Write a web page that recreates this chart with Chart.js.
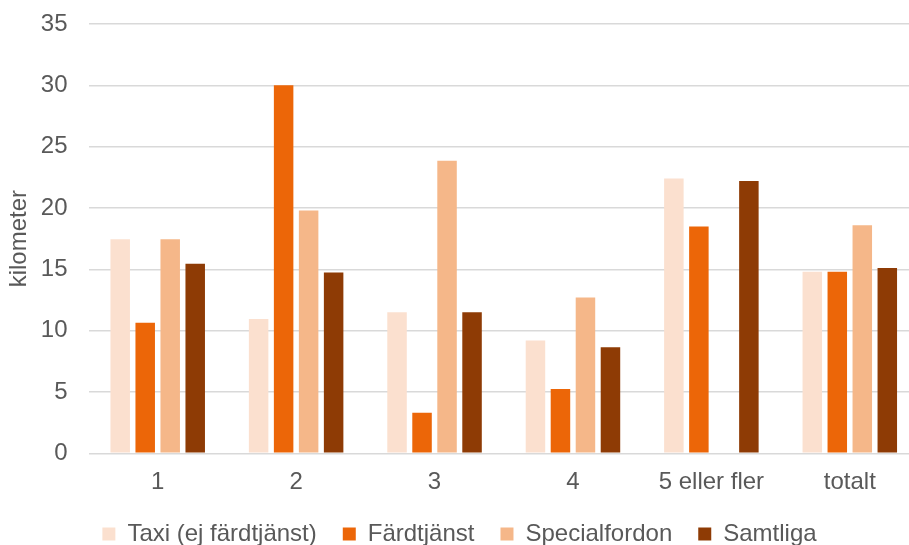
<!DOCTYPE html>
<html>
<head>
<meta charset="utf-8">
<script src="https://cdn.jsdelivr.net/npm/chart.js@4/dist/chart.umd.min.js"></script>
<style>
  html, body { margin: 0; padding: 0; background: #ffffff; overflow: hidden; }
  #wrap { position: relative; width: 919px; height: 545px; }
</style>
</head>
<body>
<div id="wrap"><canvas id="chart"></canvas></div>
<script>
// Average trip length (km) by number of passengers, per vehicle type
const categories = ['1', '2', '3', '4', '5 eller fler', 'totalt'];
const seriesNames = ['Taxi (ej färdtjänst)', 'Färdtjänst', 'Specialfordon', 'Samtliga'];
const taxi          = [17.45, 10.95, 11.5, 9.2, 22.4, 14.8];
const fardtjanst    = [10.65, 30.0, 3.3, 5.25, 18.5, 14.8];
const specialfordon = [17.45, 19.8, 23.85, 12.7, null, 18.6];
const samtliga      = [15.45, 14.75, 11.5, 8.65, 22.2, 15.1];
const yTicks = [0, 5, 10, 15, 20, 25, 30, 35];

const colors = ['#FBE0CF', '#EC6608', '#F5B789', '#8E3B05'];
const values = [taxi, fardtjanst, specialfordon, samtliga];

const FONT = '"Liberation Sans", Arial, sans-serif';
const GREY = '#595959';

new Chart(document.getElementById('chart'), {
  type: 'bar',
  data: {
    labels: categories,
    datasets: seriesNames.map((name, i) => ({
      label: name,
      data: values[i],
      backgroundColor: colors[i],
      borderWidth: 0,
      categoryPercentage: 0.7225,
      barPercentage: 0.78
    }))
  },
  options: {
    responsive: true,
    maintainAspectRatio: false,
    animation: false,
    layout: { padding: 0 },
    plugins: {
      tooltip: { enabled: false },
      legend: {
        position: 'bottom',
        maxHeight: 49,
        labels: {
          font: { family: FONT, size: 24 },
          color: GREY,
          boxWidth: 13,
          boxHeight: 13,
          padding: 26,
          useBorderRadius: false
        }
      }
    },
    scales: {
      x: {
        grid: { display: false, drawTicks: false },
        border: { display: false },
        afterFit: (scale) => { scale.height = 42.7; },
        ticks: { font: { family: FONT, size: 24 }, color: GREY, padding: 15, maxRotation: 0 }
      },
      y: {
        min: 0,
        max: 35,
        afterBuildTicks: (scale) => { scale.ticks = yTicks.map(v => ({ value: v })); },
        afterFit: (scale) => { scale.width = 88.5; scale.paddingTop = 24; },
        grid: { color: '#D9D9D9', lineWidth: 1.5, drawTicks: false },
        border: { display: false },
        ticks: { font: { family: FONT, size: 24 }, color: GREY, padding: 21 },
        title: {
          display: true,
          text: 'kilometer',
          font: { family: FONT, size: 24 },
          color: GREY,
          padding: { top: 5, bottom: 0 }
        }
      }
    }
  }
});
</script>
</body>
</html>
